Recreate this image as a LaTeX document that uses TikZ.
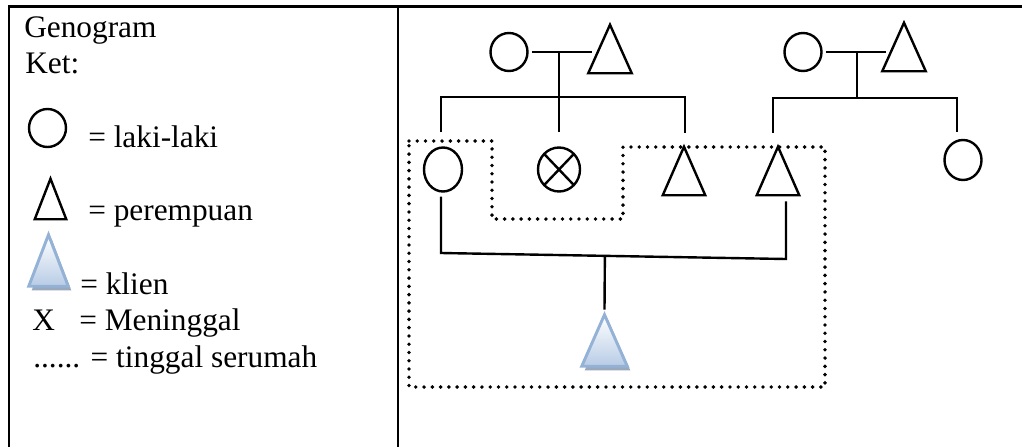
\documentclass[tikz,border=0pt]{standalone}
\usepackage{fontspec}
\setmainfont{Liberation Serif}
\usepackage{tikz}
\usetikzlibrary{shapes.geometric}
\usetikzlibrary{calc}
\usepackage{xcolor}
\definecolor{klienblue}{rgb}{0.72,0.80,0.90}
\definecolor{klienedge}{rgb}{0.58,0.70,0.84}
\definecolor{klienshade}{rgb}{0.60,0.66,0.74}

\tikzset{
  tri outline/.style={append after command={\pgfextra{%
    \draw[#1] (\tikzlastnode.north) -- (\tikzlastnode.south east) -- (\tikzlastnode.south west) -- cycle;}}},
  tri shadow/.style={append after command={\pgfextra{%
    \fill[klienshade] ($(\tikzlastnode.north)+(3,4)$) -- ($(\tikzlastnode.south east)+(3,4)$) -- ($(\tikzlastnode.south west)+(3,4)$) -- cycle;}}},
  laki/.style={draw, ellipse, line width=1.8pt, inner sep=0, minimum width=27.75pt, minimum height=28.5pt},
  meninggal/.style={laki, path picture={%
    \draw[line width=1.8pt] (path picture bounding box.north west) -- (path picture bounding box.south east)
      (path picture bounding box.north east) -- (path picture bounding box.south west);}},
  perempuan/.style={inner sep=0, minimum width=32.25pt, minimum height=36pt, tri outline={line width=1.8pt}},
  klien/.style={inner sep=0, minimum width=33.75pt, minimum height=38.25pt, tri shadow,
    tri outline={klienedge, line width=2.2pt, line join=miter, top color=white, bottom color=klienblue}},
  garis/.style={line width=1.8pt},
  serumah/.style={line width=2.9pt, line cap=round, dash pattern=on 0pt off 6.2pt},
  ket/.style={anchor=base west, inner sep=0},
}

\begin{document}
\begin{tikzpicture}[x=0.75pt, y=-0.75pt, font=\fontsize{23.5}{28}\selectfont]
\useasboundingbox (0,0) rectangle (1022,447);

%%%%%%%%%%%%%%%%%%%%%%%%%%%%%%%%%%%%%%%%%%%%%%%%%%%%%%%%%%%%%% Table
\draw[line width=1.9pt] (8,6.5) -- (1022,6.5);
\draw[line width=1.9pt] (9,6.5) -- (9,447);
\draw[line width=1.9pt] (398,6.5) -- (398,447);

%%%%%%%%%%%%%%%%%%%%%%%%%%%%%%%%%%%%%%%%%%%%%%%%%%%%%%%%%%%%%% Keterangan
\node[ket] (judul) at (24,37) {Genogram};
\node[ket] (ket) at (25,73) {Ket:};

\node[laki] (lkL) at (47.5,128) {};
\node[ket] (tL) at (88,147) {= laki-laki};

\node[perempuan, minimum width=23.25pt, minimum height=30pt] (lkP) at (50.5,199) {};
\node[ket] (tP) at (88,220) {= perempuan};

\node[klien, minimum width=29.25pt] (lkK) at (48.5,260.5) {};
\node[ket] (tK) at (80,294) {= klien};

\node[ket] (lkX) at (32,330) {X};
\node[ket] (tX) at (79,330) {= Meninggal};

\node[ket] (tS) at (33,367) {...... = tinggal serumah};

%%%%%%%%%%%%%%%%%%%%%%%%%%%%%%%%%%%%%%%%%%%%%%%%%%%%%%%%%%%%%% Generasi 1
\node[laki] (kakekA) at (509,52) {};
\node[perempuan] (nenekA) at (610,49) {};
\node[laki] (kakekB) at (803,52) {};
\node[perempuan] (nenekB) at (904,47) {};

\draw[garis] ($(kakekA.east)+(3,0)$) -- ($(nenekA.west)+(4,3)$);
\draw[garis] ($(kakekB.east)+(3,0)$) -- ($(nenekB.west)+(4,5)$);
\coordinate (nikahA) at (559,52);
\coordinate (nikahB) at (857,52);
\coordinate (anakA) at (559,97);
\coordinate (anakB) at (857,98);

%%%%%%%%%%%%%%%%%%%%%%%%%%%%%%%%%%%%%%%%%%%%%%%%%%%%%%%%%%%%%% Generasi 2
\node[laki, minimum width=28.5pt, minimum height=33pt] (ayah) at (443,169.5) {};
\node[meninggal, minimum width=31.5pt, minimum height=33pt] (pamanA) at (559,169.5) {};
\node[perempuan, minimum width=31.5pt] (bibiA) at (684,171) {};
\node[perempuan, minimum width=31.5pt] (ibu) at (778,171) {};
\node[laki, minimum height=30pt] (pamanB) at (963,160) {};

\draw[garis] (nikahA) -- (anakA);
\draw[garis] ($(ayah.north)+(-2,-14)$) |- (anakA) -| ($(bibiA.north)+(1,-14)$);
\draw[garis] (anakA) -- ($(pamanA.north)+(0,-14)$);

\draw[garis] (nikahB) -- (anakB);
\draw[garis] ($(ibu.north)+(-5,-14)$) |- (anakB) -| ($(pamanB.north)+(-6,-7)$);

%%%%%%%%%%%%%%%%%%%%%%%%%%%%%%%%%%%%%%%%%%%%%%%%%%%%%%%%%%%%%% Generasi 3
\node[klien] (pasien) at (604.5,340.5) {};

\coordinate (ortuA) at (441,253);
\coordinate (ortuB) at (786,259);
\coordinate (ortuC) at ($(ortuA)!0.475!(ortuB)$);
\draw[garis] ($(ayah.south)+(-2,4)$) -- (ortuA) -- (ortuB) -- ($(ibu.south)+(8,6)$);
\draw[garis] (ortuC) -- ($(pasien.north)+(0,-5)$);

% tinggal serumah
\draw[serumah] (409,141) -- (492,141) -- (492,219) -- (623,219) -- (623,147)
  -- (825,147) -- (825,387) -- (409,387) -- cycle;

\end{tikzpicture}
\end{document}
